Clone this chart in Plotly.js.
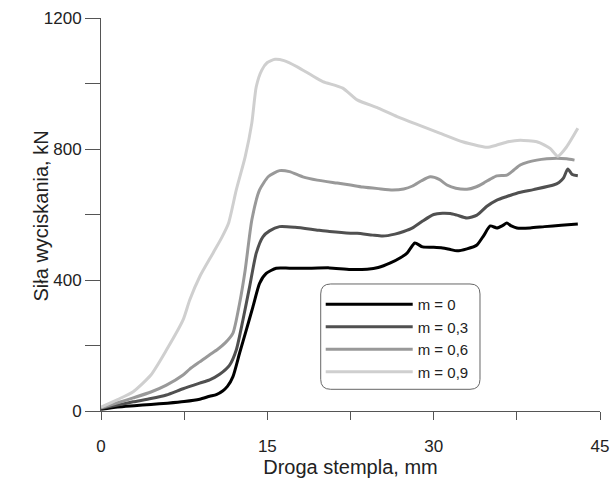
<!DOCTYPE html>
<html>
<head>
<meta charset="utf-8">
<script src="https://cdn.plot.ly/plotly-3.0.1.min.js"></script>
<style>html,body{margin:0;padding:0;background:#fff;}#chart{width:615px;height:482px;}</style>
</head>
<body>
<div id="chart"></div>
<script>
// Droga stempla (mm) vs Siła wyciskania (kN)
var seriesNames = ['m = 0', 'm = 0,3', 'm = 0,6', 'm = 0,9'];

var x_m0 = [0, 1.5, 3, 4.5, 6, 7.5, 8.9, 9.8, 10.4, 11.0, 11.4, 11.9, 12.5, 13.1, 13.7, 14.3, 14.9, 15.8, 17, 19, 20.6, 22.5, 24, 25, 26.1, 27, 27.6, 28.3, 29.0, 30.0, 30.8, 31.5, 32.1, 33.0, 33.9, 34.5, 35.1, 35.7, 36.2, 36.6, 37.0, 37.5, 38.7, 40, 41.5, 43.0];
var y_m0 = [5, 12, 16, 20, 24, 29, 36, 45, 50, 62, 75, 105, 177, 247, 318, 390, 420, 436, 436, 436, 437, 432, 433, 438, 452, 468, 482, 513, 501, 500, 498, 493, 489, 495, 507, 535, 565, 559, 566, 574, 565, 559, 559, 563, 567, 571];

var x_m03 = [0, 1.5, 2.9, 4.5, 5.9, 7.4, 8.9, 9.8, 10.7, 11.6, 12.2, 12.8, 13.4, 14.0, 14.6, 15.2, 16.1, 17.5, 19.4, 20.6, 22.5, 23.1, 24.5, 25.4, 26.5, 27.3, 28.1, 29.0, 30.0, 30.8, 31.5, 32.1, 33.0, 33.9, 34.8, 35.7, 36.6, 37.5, 39.0, 40.8, 41.3, 41.7, 42.1, 42.5, 43.0];
var y_m03 = [8, 18, 28, 38, 49, 68, 85, 95, 112, 140, 186, 278, 379, 482, 532, 550, 563, 561, 553, 548, 543, 543, 537, 534, 540, 548, 559, 580, 600, 604, 603, 598, 589, 598, 625, 644, 655, 665, 676, 690, 698, 711, 739, 722, 718];

var x_m06 = [0, 1.5, 2.9, 4.5, 5.9, 7.4, 8.0, 8.9, 9.8, 10.5, 11.2, 11.9, 12.5, 13.0, 13.6, 14.3, 15.1, 16.1, 17, 18.2, 19.5, 21.3, 22.5, 23.6, 25, 26.3, 27.3, 28.1, 28.9, 29.7, 30.5, 31.2, 32, 33.0, 33.8, 34.5, 35.1, 35.7, 36.6, 37.2, 37.8, 38.5, 39.3, 40.2, 41.1, 42.0, 42.7];
var y_m06 = [10, 25, 40, 58, 79, 110, 128, 150, 172, 188, 208, 238, 329, 430, 583, 675, 716, 734, 731, 715, 705, 696, 690, 684, 679, 675, 678, 687, 703, 715, 707, 690, 680, 677, 684, 696, 708, 718, 720, 735, 751, 760, 766, 770, 772, 770, 766];

var x_m09 = [0, 1.5, 2.9, 4.5, 5.9, 7.4, 8.0, 8.9, 10.1, 10.9, 11.5, 12.2, 13.0, 13.6, 14.0, 14.5, 15.0, 15.7, 16.5, 17.7, 19, 20.0, 21.8, 23.1, 25, 26.7, 28.5, 30.6, 32.6, 34.0, 34.8, 35.7, 36.7, 37.8, 39.3, 40.0, 40.5, 41.2, 42.0, 43.0];
var y_m09 = [12, 35, 59, 110, 186, 278, 339, 410, 482, 530, 573, 675, 776, 879, 990, 1041, 1064, 1074, 1070, 1051, 1025, 1006, 986, 950, 925, 899, 875, 848, 822, 810, 805, 812, 822, 827, 822, 812, 802, 778, 807, 863];

var xTickVals = [0, 7.5, 15, 22.5, 30, 37.5, 45];
var xTickText = ['0', '', '15', '', '30', '', '45'];
var yTickVals = [0, 200, 400, 600, 800, 1000, 1200];
var yTickText = ['0', '', '400', '', '800', '', '1200'];

var colors = ['#000000', '#505050', '#999999', '#cfcfcf'];
var xs = [x_m0, x_m03, x_m06, x_m09];
var ys = [y_m0, y_m03, y_m06, y_m09];

var traces = xs.map(function (xv, i) {
  return {
    x: xv, y: ys[i], name: seriesNames[i], type: 'scatter', mode: 'lines',
    line: {color: colors[i], width: 3, shape: 'spline', smoothing: 0.6}
  };
});

var FONT = 'Liberation Sans, Arial, sans-serif';
var axisColor = '#555555';

var layout = {
  width: 615, height: 482,
  margin: {l: 101, r: 15, t: 18, b: 71, pad: 0},
  paper_bgcolor: '#ffffff', plot_bgcolor: '#ffffff',
  font: {family: FONT, size: 17, color: '#222222'},
  showlegend: true,
  xaxis: {
    range: [0, 45], showgrid: false, zeroline: false,
    showline: true, linecolor: axisColor, linewidth: 1,
    ticks: 'outside', ticklen: 8, tickcolor: axisColor, tickwidth: 1,
    tickmode: 'array', tickvals: xTickVals, ticktext: xTickText,
    tickfont: {family: FONT, size: 17, color: '#222222'},
    ticklabelstandoff: 12,
    title: {text: 'Droga stempla, mm', font: {family: FONT, size: 20, color: '#222222'}, standoff: 4}
  },
  yaxis: {
    range: [0, 1200], showgrid: false, zeroline: false,
    showline: true, linecolor: axisColor, linewidth: 1,
    ticks: 'outside', ticklen: 15, tickcolor: axisColor, tickwidth: 1,
    tickmode: 'array', tickvals: yTickVals, ticktext: yTickText,
    tickfont: {family: FONT, size: 17, color: '#222222'},
    ticklabelstandoff: 0
  },
  annotations: [{
    text: 'Siła wyciskania, kN', xref: 'paper', yref: 'paper',
    x: -0.1202, y: 0.495, xanchor: 'center', yanchor: 'middle',
    textangle: -90, showarrow: false,
    font: {family: FONT, size: 20, color: '#222222'}
  }],
  legend: {
    x: 0.4403, y: 0.313, xanchor: 'left', yanchor: 'top',
    bgcolor: 'rgba(0,0,0,0)', borderwidth: 0,
    font: {family: FONT, size: 15, color: '#222222'},
    itemwidth: 87, traceorder: 'normal'
  },
  shapes: [{
    type: 'path', xref: 'paper', yref: 'paper', layer: 'below',
    path: 'M 0.4603 0.3232 L 0.7395 0.3232 Q 0.7595 0.3232 0.7595 0.2978 L 0.7595 0.0806 Q 0.7595 0.0552 0.7395 0.0552 L 0.4603 0.0552 Q 0.4403 0.0552 0.4403 0.0806 L 0.4403 0.2978 Q 0.4403 0.3232 0.4603 0.3232 Z',
    line: {color: '#666666', width: 1}, fillcolor: '#ffffff'
  }]
};

Plotly.newPlot('chart', traces, layout, {displayModeBar: false, staticPlot: true});
</script>
</body>
</html>
